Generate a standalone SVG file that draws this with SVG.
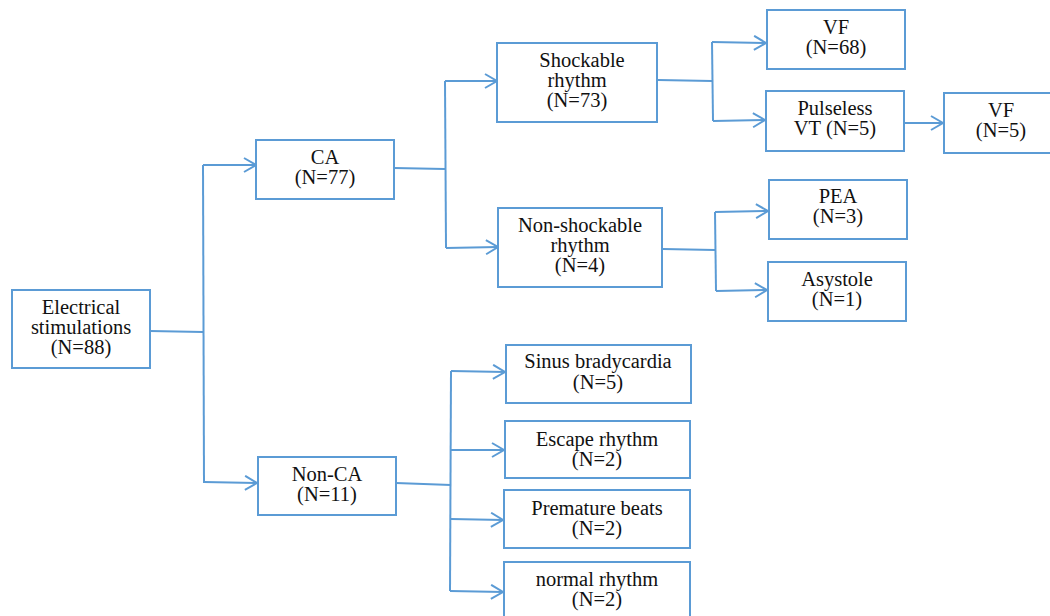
<svg xmlns="http://www.w3.org/2000/svg" width="1050" height="616" viewBox="0 0 1050 616">
<style>
.box{fill:#fff;stroke:#5B9BD5;stroke-width:2}
.c{fill:none;stroke:#5B9BD5;stroke-width:2}
.a{fill:none;stroke:#5B9BD5;stroke-width:2;marker-end:url(#ah)}
.t{font-family:'Liberation Serif','Times New Roman',Times,serif;font-size:20.5px;fill:#111;text-anchor:middle}
</style>
<defs>
<marker id="ah" markerUnits="userSpaceOnUse" markerWidth="16" markerHeight="18" refX="13" refY="8" orient="auto">
<path d="M1,1 L13,8 L1,15" fill="none" stroke="#5B9BD5" stroke-width="2"/>
</marker>
</defs>
<rect width="1050" height="616" fill="#fff"/>
<g id="connectors">
<path class="c" d="M150,331 L203,332"/>
<path class="c" d="M203,165 L204,483"/>
<path class="a" d="M203,165 L256,165"/>
<path class="a" d="M204,482 L257,483"/>
<path class="c" d="M394,168 L445,169"/>
<path class="c" d="M445,81 L446,248"/>
<path class="a" d="M445,81 L497,81"/>
<path class="a" d="M446,248 L498,247"/>
<path class="c" d="M658,80 L712,81"/>
<path class="c" d="M712,42 L713,121"/>
<path class="a" d="M712,42 L766,43"/>
<path class="a" d="M713,121 L765,120"/>
<path class="a" d="M905,123 L943,123"/>
<path class="c" d="M663,249 L715,250"/>
<path class="c" d="M715,212 L716,291"/>
<path class="a" d="M715,212 L768,211"/>
<path class="a" d="M716,291 L767,290"/>
<path class="c" d="M396,483 L451,485"/>
<path class="c" d="M451,371 L450,591"/>
<path class="a" d="M451,371 L505,372"/>
<path class="a" d="M451,450 L504,450"/>
<path class="a" d="M451,519 L503,520"/>
<path class="a" d="M450,591 L503,592"/>
</g>
<g class="t" font-family="Liberation Serif, serif">
<g id="n-elec"><rect class="box" x="12" y="290" width="138" height="78"/><text x="81" y="314">Electrical</text><text x="81" y="334">stimulations</text><text x="81" y="354">(N=88)</text></g>
<g id="n-ca"><rect class="box" x="256" y="140" width="138" height="59"/><text x="325" y="164">CA</text><text x="325" y="184">(N=77)</text></g>
<g id="n-nonca"><rect class="box" x="258" y="457" width="138" height="58"/><text x="327" y="481">Non-CA</text><text x="327" y="501">(N=11)</text></g>
<g id="n-shock"><rect class="box" x="497" y="43" width="160" height="79"/><text x="582" y="67">Shockable</text><text x="577" y="87">rhythm</text><text x="577" y="107">(N=73)</text></g>
<g id="n-nonshock"><rect class="box" x="498" y="208" width="164" height="79"/><text x="580" y="232">Non-shockable</text><text x="580" y="252">rhythm</text><text x="580" y="272">(N=4)</text></g>
<g id="n-vf"><rect class="box" x="767" y="10" width="138" height="59"/><text x="836" y="34">VF</text><text x="836" y="54">(N=68)</text></g>
<g id="n-pvt"><rect class="box" x="766" y="91" width="138" height="60"/><text x="835" y="115">Pulseless</text><text x="835" y="135">VT (N=5)</text></g>
<g id="n-vf2"><rect class="box" x="944" y="93" width="116" height="60"/><text x="1001" y="117">VF</text><text x="1001" y="137">(N=5)</text></g>
<g id="n-pea"><rect class="box" x="769" y="180" width="138" height="59"/><text x="838" y="203">PEA</text><text x="838" y="223">(N=3)</text></g>
<g id="n-asys"><rect class="box" x="768" y="262" width="138" height="59"/><text x="837" y="286">Asystole</text><text x="837" y="306">(N=1)</text></g>
<g id="n-sinus"><rect class="box" x="506" y="345" width="185" height="58"/><text x="598" y="368">Sinus bradycardia</text><text x="598" y="389">(N=5)</text></g>
<g id="n-escape"><rect class="box" x="505" y="421" width="185" height="57"/><text x="597" y="446">Escape rhythm</text><text x="597" y="466">(N=2)</text></g>
<g id="n-prem"><rect class="box" x="504" y="490" width="186" height="58"/><text x="597" y="515">Premature beats</text><text x="597" y="535">(N=2)</text></g>
<g id="n-normal"><rect class="box" x="504" y="562" width="186" height="62"/><text x="597" y="586">normal rhythm</text><text x="597" y="606">(N=2)</text></g>
</g>
</svg>
